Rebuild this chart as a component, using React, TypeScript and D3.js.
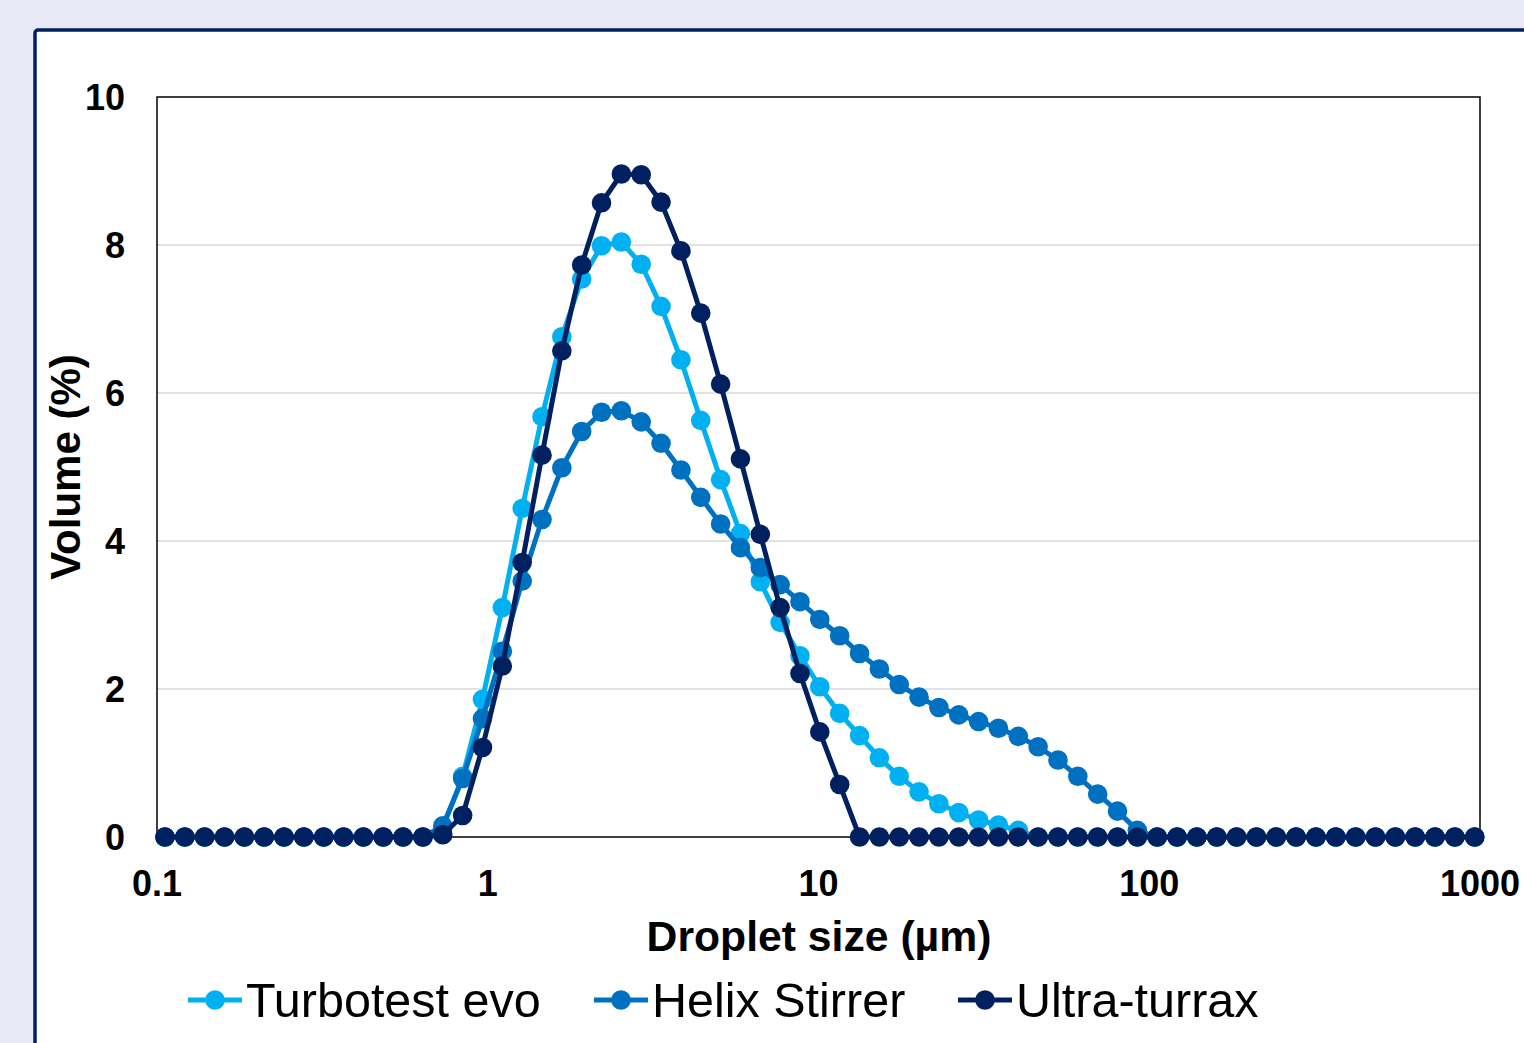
import React from 'react';
import * as d3 from 'd3';

// size classes (µm)
const sizes = [
  0.1057, 0.1214, 0.1393, 0.16, 0.1837, 0.2109, 0.2421, 0.278, 0.3192, 0.3665,
  0.4208, 0.4831, 0.5547, 0.6369, 0.7312, 0.8396, 0.964, 1.107, 1.271, 1.459,
  1.675, 1.923, 2.208, 2.535, 2.911, 3.342, 3.838, 4.406, 5.059, 5.808,
  6.669, 7.656, 8.791, 10.09, 11.59, 13.31, 15.28, 17.54, 20.14, 23.12,
  26.55, 30.48, 35.0, 40.18, 46.13, 52.97, 60.82, 69.83, 80.17, 92.05,
  105.7, 121.4, 139.3, 160.0, 183.7, 210.9, 242.1, 278.0, 319.2, 366.5,
  420.8, 483.1, 554.7, 636.9, 731.2, 839.6, 964.0,
];

const turbotest = [
  0, 0, 0, 0, 0, 0, 0, 0, 0, 0,
  0, 0, 0, 0, 0.12, 0.82, 1.86, 3.1, 4.44, 5.68,
  6.76, 7.54, 7.99, 8.04, 7.74, 7.17, 6.45, 5.63, 4.83, 4.1,
  3.45, 2.9, 2.45, 2.03, 1.67, 1.37, 1.07, 0.82, 0.61, 0.45,
  0.33, 0.23, 0.16, 0.09, 0, 0, 0, 0, 0, 0,
  0, 0, 0, 0, 0, 0, 0, 0, 0, 0,
  0, 0, 0, 0, 0, 0, 0,
];

const helix = [
  0, 0, 0, 0, 0, 0, 0, 0, 0, 0,
  0, 0, 0, 0, 0.15, 0.79, 1.6, 2.51, 3.46, 4.29,
  4.99, 5.48, 5.74, 5.76, 5.61, 5.32, 4.96, 4.59, 4.23, 3.91,
  3.64, 3.41, 3.18, 2.94, 2.72, 2.48, 2.27, 2.06, 1.89, 1.75,
  1.65, 1.56, 1.47, 1.36, 1.22, 1.04, 0.82, 0.58, 0.35, 0.09,
  0, 0, 0, 0, 0, 0, 0, 0, 0, 0,
  0, 0, 0, 0, 0, 0, 0,
];

const ultra = [
  0, 0, 0, 0, 0, 0, 0, 0, 0, 0,
  0, 0, 0, 0, 0.03, 0.29, 1.21, 2.31, 3.71, 5.16,
  6.57, 7.73, 8.57, 8.96, 8.95, 8.58, 7.92, 7.08, 6.12, 5.11,
  4.09, 3.1, 2.21, 1.42, 0.71, 0, 0, 0, 0, 0,
  0, 0, 0, 0, 0, 0, 0, 0, 0, 0,
  0, 0, 0, 0, 0, 0, 0, 0, 0, 0,
  0, 0, 0, 0, 0, 0, 0,
];

const seriesNames = ['Turbotest evo', 'Helix Stirrer', 'Ultra-turrax'];
const seriesColors = ['#00B0F0', '#0070C0', '#002060'];
const xTicks = [0.1, 1, 10, 100, 1000];
const yTicks = [0, 2, 4, 6, 8, 10];

const W = 1524;
const H = 1043;
const font = 'Liberation Sans, Arial, sans-serif';

export default function App() {
  const x = d3.scaleLog().domain([0.1, 1000]).range([157, 1480]);
  const y = d3.scaleLinear().domain([0, 10]).range([837, 97]);
  const all = [turbotest, helix, ultra];

  const line = d3
    .line<number>()
    .x((_, i) => x(sizes[i]))
    .y((d) => y(d));

  const legendX = [188, 594, 958];

  return (
    <svg
      width={W}
      height={H}
      style={{ position: 'absolute', left: 0, top: 0, display: 'block' }}
      fontFamily={font}
    >
      <rect x={0} y={0} width={W} height={H} fill="#E9E9F5" />
      <rect x={35} y={30} width={W} height={H} rx={3} fill="#fff" stroke="#002060" strokeWidth={3.5} />

      {/* gridlines */}
      {yTicks.filter((t) => t > 0 && t < 10).map((t) => (
        <line key={t} x1={157} x2={1480} y1={y(t)} y2={y(t)} stroke="#D9D9D9" strokeWidth={1.5} />
      ))}
      <rect x={157} y={97} width={1323} height={740} fill="none" stroke="#000" strokeWidth={1.5} />

      {/* y tick labels */}
      {yTicks.map((t) => (
        <text key={t} x={125} y={y(t)} dy="0.35em" textAnchor="end" fontSize={36} fontWeight="bold">
          {t}
        </text>
      ))}
      {/* x tick labels */}
      {xTicks.map((t) => (
        <text key={t} x={x(t)} y={896} textAnchor="middle" fontSize={36} fontWeight="bold">
          {t}
        </text>
      ))}

      <text x={819} y={951} textAnchor="middle" fontSize={42.7} fontWeight="bold">
        Droplet size (µm)
      </text>
      <text
        transform="translate(80,467) rotate(-90)"
        textAnchor="middle"
        fontSize={42}
        fontWeight="bold"
      >
        Volume (%)
      </text>

      {/* series */}
      {all.map((vals, s) => (
        <g key={s}>
          <path d={line(vals) || ''} fill="none" stroke={seriesColors[s]} strokeWidth={5} strokeLinejoin="round" />
          {vals.map((v, i) => (
            <circle key={i} cx={x(sizes[i])} cy={y(v)} r={9.8} fill={seriesColors[s]} />
          ))}
        </g>
      ))}

      {/* legend */}
      {seriesNames.map((n, s) => (
        <g key={n} transform={`translate(${legendX[s]},1000)`}>
          <line x1={0} x2={54} y1={0} y2={0} stroke={seriesColors[s]} strokeWidth={5} />
          <circle cx={27} cy={0} r={9.8} fill={seriesColors[s]} />
          <text x={58} y={17} fontSize={48.5}>
            {n}
          </text>
        </g>
      ))}
    </svg>
  );
}
